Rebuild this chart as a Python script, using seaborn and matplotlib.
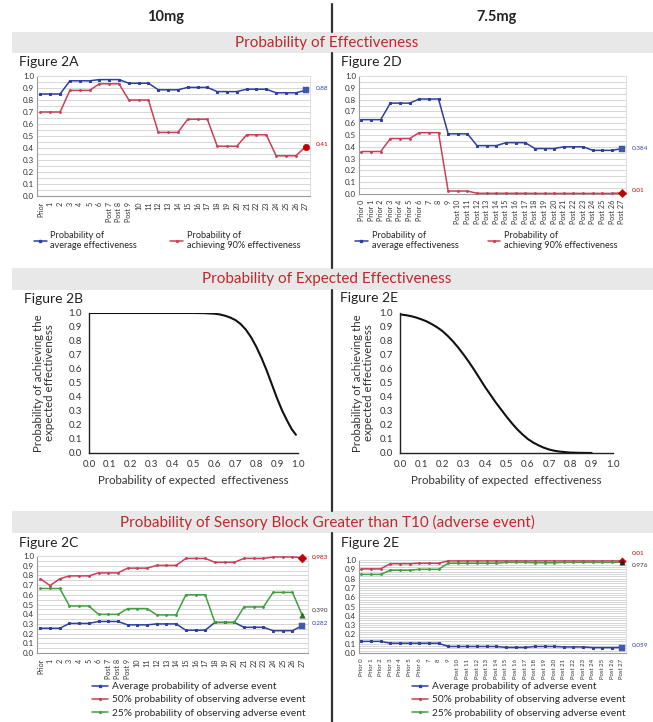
import numpy as np
import pandas as pd
import matplotlib
matplotlib.use("Agg")
import matplotlib.pyplot as plt
import seaborn as sns
from matplotlib.lines import Line2D
from matplotlib.patches import Rectangle
from matplotlib.ticker import MultipleLocator

sns.set_style("white")
plt.rcParams['font.family'] = ['Lato', 'DejaVu Sans']

# ---------------- data ----------------
labels_10mg = ["Prior", "1", "2", "3", "4", "5", "6", "Post 7", "Post 8", "Post 9",
               "10", "11", "12", "13", "14", "15", "16", "17", "18", "19", "20",
               "21", "22", "23", "24", "25", "26", "27"]
labels_75mg = ["Prior 0", "Prior 1", "Prior 2", "Prior 3", "Prior 4", "Prior 5", "Prior 6",
               "7", "8", "9", "Post 10", "Post 11", "Post 12", "Post 13", "Post 14",
               "Post 15", "Post 16", "Post 17", "Post 18", "Post 19", "Post 20",
               "Post 21", "Post 22", "Post 23", "Post 24", "Post 25", "Post 26", "Post 27"]

# Figure 2A (10 mg) effectiveness
eff_avg_10 = [0.85, 0.85, 0.85, 0.96, 0.96, 0.96, 0.97, 0.97, 0.97, 0.94, 0.94, 0.94,
              0.885, 0.885, 0.885, 0.905, 0.905, 0.905, 0.87, 0.87, 0.87, 0.89, 0.89, 0.89,
              0.86, 0.86, 0.86, 0.88]
eff_90_10 = [0.70, 0.70, 0.70, 0.88, 0.88, 0.88, 0.935, 0.935, 0.935, 0.80, 0.80, 0.80,
             0.53, 0.53, 0.53, 0.64, 0.64, 0.64, 0.415, 0.415, 0.415, 0.51, 0.51, 0.51,
             0.335, 0.335, 0.335, 0.41]
# Figure 2D (7.5 mg) effectiveness
eff_avg_75 = [0.63, 0.63, 0.63, 0.77, 0.77, 0.77, 0.805, 0.805, 0.805, 0.51, 0.51, 0.51,
              0.41, 0.41, 0.41, 0.435, 0.435, 0.435, 0.385, 0.385, 0.385, 0.40, 0.40, 0.40,
              0.37, 0.37, 0.37, 0.384]
eff_90_75 = [0.36, 0.36, 0.36, 0.47, 0.47, 0.47, 0.52, 0.52, 0.52, 0.025, 0.025, 0.025,
             0.006, 0.006, 0.006, 0.006, 0.006, 0.006, 0.005, 0.005, 0.005, 0.005, 0.005, 0.005,
             0.005, 0.005, 0.005, 0.01]

# Figure 2B / 2E curves
exp_x_10 = [0.0, 0.1, 0.2, 0.3, 0.4, 0.5, 0.55, 0.6, 0.625, 0.65, 0.675, 0.7, 0.725, 0.75,
            0.775, 0.8, 0.825, 0.85, 0.875, 0.9, 0.925, 0.95, 0.97, 0.99]
exp_y_10 = [1.0, 1.0, 1.0, 1.0, 1.0, 1.0, 0.999, 0.995, 0.99, 0.981, 0.968, 0.95, 0.922, 0.882,
            0.828, 0.76, 0.68, 0.59, 0.49, 0.39, 0.30, 0.225, 0.17, 0.13]
exp_x_75 = [0.0, 0.025, 0.05, 0.075, 0.1, 0.125, 0.15, 0.175, 0.2, 0.225, 0.25, 0.275, 0.3,
            0.325, 0.35, 0.375, 0.4, 0.425, 0.45, 0.475, 0.5, 0.525, 0.55, 0.575, 0.6,
            0.625, 0.65, 0.675, 0.7, 0.725, 0.75, 0.8, 0.85, 0.9]
exp_y_75 = [0.99, 0.985, 0.978, 0.968, 0.955, 0.94, 0.92, 0.897, 0.87, 0.835, 0.795, 0.75, 0.70,
            0.647, 0.59, 0.53, 0.47, 0.415, 0.36, 0.31, 0.26, 0.213, 0.17, 0.133, 0.10,
            0.075, 0.055, 0.038, 0.025, 0.016, 0.01, 0.003, 0.001, 0.0]

# Figure 2C (10 mg) adverse event
ae_avg_10 = [0.255, 0.255, 0.255, 0.305, 0.305, 0.305, 0.325, 0.325, 0.325, 0.29, 0.29, 0.29,
             0.30, 0.30, 0.30, 0.235, 0.235, 0.235, 0.315, 0.315, 0.315, 0.265, 0.265, 0.265,
             0.23, 0.23, 0.23, 0.282]
ae_50_10 = [0.765, 0.695, 0.765, 0.795, 0.795, 0.795, 0.826, 0.826, 0.826, 0.875, 0.875, 0.875,
            0.903, 0.903, 0.903, 0.975, 0.975, 0.975, 0.935, 0.935, 0.935, 0.975, 0.975, 0.975,
            0.99, 0.99, 0.99, 0.983]
ae_25_10 = [0.665, 0.665, 0.665, 0.485, 0.485, 0.485, 0.398, 0.398, 0.398, 0.458, 0.458, 0.458,
            0.393, 0.393, 0.393, 0.60, 0.60, 0.60, 0.315, 0.315, 0.315, 0.475, 0.475, 0.475,
            0.625, 0.625, 0.625, 0.390]
# Figure 2E (7.5 mg) adverse event
ae_avg_75 = [0.125, 0.125, 0.125, 0.105, 0.105, 0.105, 0.105, 0.105, 0.105, 0.07, 0.07, 0.07,
             0.07, 0.07, 0.07, 0.06, 0.06, 0.06, 0.07, 0.07, 0.07, 0.065, 0.065, 0.065,
             0.058, 0.058, 0.058, 0.059]
ae_50_75 = [0.905, 0.905, 0.905, 0.96, 0.96, 0.96, 0.965, 0.965, 0.965, 0.99, 0.99, 0.99,
            0.99, 0.99, 0.99, 0.99, 0.99, 0.99, 0.99, 0.99, 0.99, 0.99, 0.99, 0.99,
            0.99, 0.99, 0.99, 0.99]
ae_25_75 = [0.845, 0.845, 0.845, 0.89, 0.89, 0.89, 0.90, 0.90, 0.90, 0.965, 0.965, 0.965,
            0.965, 0.965, 0.965, 0.975, 0.975, 0.975, 0.97, 0.97, 0.97, 0.975, 0.975, 0.975,
            0.975, 0.975, 0.975, 0.976]

end_labels_2A = ["0.88", "0.41"]
end_labels_2D = ["0.384", "0.01"]
end_labels_2C = ["0.282", "0.983", "0,390"]
end_labels_2E = ["0.059", "0.01", "0.976"]

# ---------------- styling ----------------
W, H = 653, 722
BLUE = "#2f3f9e"
RED = "#c8405a"
RED_DARK = "#c00000"
GREEN = "#3fa03f"
TITLE_RED = "#c0282d"
BANNER = "#e8e8e8"
GRID = "#d6d6d6"

fig = plt.figure(figsize=(W / 100, H / 100), dpi=100)
fig.patch.set_facecolor("white")


def px_axes(l, t, r, b):
    return fig.add_axes([l / W, 1 - b / H, (r - l) / W, (b - t) / H])


def ftext(x, y, s, **kw):
    fig.text(x / W, 1 - y / H, s, **kw)


# banners and divider
for (t, b, txt) in [(32, 53, "Probability of Effectiveness"),
                    (268, 290, "Probability of Expected Effectiveness"),
                    (511, 533, "Probability of Sensory Block Greater than T10 (adverse event)")]:
    fig.patches.append(Rectangle((12 / W, 1 - b / H), (W - 12) / W, (b - t) / H,
                                 transform=fig.transFigure, facecolor=BANNER,
                                 edgecolor="none", zorder=0))
    ftext(327, (t + b) / 2 + 0.5, txt, ha="center", va="center", fontsize=11, color=TITLE_RED)

for (y0, y1) in [(4, 32), (53, 268), (290, 511), (533, 722)]:
    fig.add_artist(Line2D([332 / W, 332 / W], [1 - y0 / H, 1 - y1 / H],
                          transform=fig.transFigure, color="#333333", lw=1.6))

ftext(166, 17, "10mg", ha="center", va="center", fontsize=10.5, fontweight="bold", color="#222222")
ftext(497, 17, "7.5mg", ha="center", va="center", fontsize=10.5, fontweight="bold", color="#222222")

for (x, y, s) in [(19, 62, "Figure 2A"), (341, 62, "Figure 2D"), (24, 299, "Figure 2B"),
                  (340, 298, "Figure 2E"), (19, 543, "Figure 2C"), (341, 543, "Figure 2E")]:
    ftext(x, y, s, ha="left", va="center", fontsize=10, color="#222222")


def style_series_axes(ax, labels, xlim, grid_step, xfs):
    ax.set_xlim(*xlim)
    ax.set_ylim(0, 1.0)
    ax.set_yticks(np.arange(0, 1.01, 0.1))
    ax.set_yticklabels([f"{v:.1f}" for v in np.arange(0, 1.01, 0.1)], fontsize=5.8, color="#333333")
    ax.yaxis.set_minor_locator(MultipleLocator(grid_step))
    ax.grid(True, axis="y", which="both", color=GRID, lw=0.7)
    ax.set_xticks(range(len(labels)))
    ax.set_xticklabels(labels, rotation=90, fontsize=xfs, color="#333333")
    ax.tick_params(axis="both", which="both", length=0, pad=2)
    ax.tick_params(axis="x", length=2, color="#999999", width=0.5)
    for s in ["left", "bottom"]:
        ax.spines[s].set_color("#9a9a9a")
        ax.spines[s].set_linewidth(0.8)
    for s in ["top", "right"]:
        ax.spines[s].set_color("#dddddd")
        ax.spines[s].set_linewidth(0.7)
    ax.set_xlabel("")
    ax.set_ylabel("")


def draw_series(ax, values, color, marker, ms, end_marker, end_ms, end_color, label_txt, label_color, dy=0):
    df = pd.DataFrame({"x": np.arange(len(values)), "y": values})
    sns.lineplot(data=df, x="x", y="y", ax=ax, color=color, lw=1.1, marker=marker,
                 markersize=ms, markeredgecolor=color, markerfacecolor=color, zorder=3)
    last = df.iloc[[-1]]
    sns.scatterplot(data=last, x="x", y="y", ax=ax, color=end_color, marker=end_marker,
                    s=end_ms, edgecolor=end_color, zorder=4, clip_on=False)
    ax.annotate(label_txt, xy=(last["x"].iloc[0], last["y"].iloc[0]), xytext=(7, dy),
                textcoords="offset points", fontsize=4.6, color=label_color,
                ha="left", va="center", annotation_clip=False)


# ---- Figure 2A ----
axA = px_axes(37, 76, 310, 196)
draw_series(axA, eff_avg_10, BLUE, "s", 2.0, "s", 18, "#3f5aa8", end_labels_2A[0], BLUE, 1.5)
draw_series(axA, eff_90_10, RED, "o", 1.3, "o", 22, RED_DARK, end_labels_2A[1], RED_DARK, 1.5)
style_series_axes(axA, labels_10mg, (-0.35, 27.45), 0.05, 5.2)

# ---- Figure 2D ----
axD = px_axes(359, 76, 626, 194)
draw_series(axD, eff_avg_75, BLUE, "s", 2.0, "s", 18, "#3f5aa8", end_labels_2D[0], BLUE, 0)
draw_series(axD, eff_90_75, RED, "o", 1.3, "D", 18, RED_DARK, end_labels_2D[1], RED_DARK, 2)
style_series_axes(axD, labels_75mg, (-0.25, 27.45), 0.05, 5.2)

leg_eff = [Line2D([], [], color=BLUE, marker="s", ms=2.0, lw=1.1),
           Line2D([], [], color=RED, marker="o", ms=1.3, lw=1.1)]
leg_eff_txt = ["Probability of\naverage effectiveness", "Probability of\nachieving 90% effectiveness"]
for ax, x0, cs in [(axA, 34, 3.6), (axD, 355, 3.2)]:
    ax.legend(leg_eff, leg_eff_txt, ncol=2, loc="upper left",
              bbox_to_anchor=(x0 / W, 1 - 231 / H), bbox_transform=fig.transFigure,
              frameon=False, fontsize=6.6, handlelength=1.4, handletextpad=0.4,
              columnspacing=cs, borderaxespad=0, borderpad=0)

# ---- Figure 2B / 2E (curves) ----
def style_curve_axes(ax, ylab_x):
    ax.set_xlim(0, 1.0)
    ax.set_ylim(0, 1.0)
    ticks = np.arange(0, 1.01, 0.1)
    ax.set_xticks(ticks)
    ax.set_xticklabels([f"{v:.1f}" for v in ticks], fontsize=7, color="#333333")
    ax.set_yticks(ticks)
    ax.set_yticklabels([f"{v:.1f}" for v in ticks], fontsize=7, color="#333333")
    ax.xaxis.set_minor_locator(MultipleLocator(0.05))
    ax.yaxis.set_minor_locator(MultipleLocator(0.05))
    ax.tick_params(axis="both", which="major", direction="out", length=3, width=0.8, color="#222222", pad=2)
    ax.tick_params(axis="both", which="minor", direction="out", length=2, width=0.7, color="#222222")
    sns.despine(ax=ax)
    for s in ["left", "bottom"]:
        ax.spines[s].set_color("#222222")
        ax.spines[s].set_linewidth(1.0)
    ax.grid(False)
    ax.set_xlabel("Probability of expected  effectiveness", fontsize=8.3, color="#333333")
    ax.set_ylabel("Probability of achieving the\nexpected effectiveness", fontsize=8.3,
                  color="#333333", linespacing=1.0)
    ax.xaxis.set_label_coords(0.5, -0.16)
    ax.yaxis.set_label_coords(ylab_x, 0.5)


axB = px_axes(89, 313, 298, 453)
sns.lineplot(x=exp_x_10, y=exp_y_10, ax=axB, color="#111111", lw=1.5)
style_curve_axes(axB, -0.165)

axE = px_axes(400, 313, 613, 453)
sns.lineplot(x=exp_x_75, y=exp_y_75, ax=axE, color="#111111", lw=1.5)
style_curve_axes(axE, -0.12)

# ---- Figure 2C ----
axC = px_axes(37, 556, 308, 653)
draw_series(axC, ae_avg_10, BLUE, "s", 2.0, "s", 18, "#3f5aa8", end_labels_2C[0], BLUE, 1.5)
draw_series(axC, ae_50_10, RED, "o", 1.3, "D", 20, RED_DARK, end_labels_2C[1], RED_DARK, 0)
draw_series(axC, ae_25_10, GREEN, "o", 1.3, "^", 16, "#2e6b2e", end_labels_2C[2], "#333333", 4)
style_series_axes(axC, labels_10mg, (-0.35, 27.6), 0.05, 5.2)

# ---- Figure 2E (adverse) ----
axF = px_axes(359, 560, 626, 653)
draw_series(axF, ae_avg_75, BLUE, "s", 2.0, "s", 14, "#3f5aa8", end_labels_2E[0], BLUE, 1.5)
draw_series(axF, ae_50_75, RED, "o", 1.3, "D", 14, RED_DARK, end_labels_2E[1], RED_DARK, 5)
draw_series(axF, ae_25_75, GREEN, "o", 1.3, "^", 14, "#222222", end_labels_2E[2], "#333333", -2)
style_series_axes(axF, labels_75mg, (-0.25, 27.45), 0.025, 4.3)

leg_ae = [Line2D([], [], color=BLUE, marker="s", ms=2.0, lw=1.1),
          Line2D([], [], color=RED, marker="o", ms=1.3, lw=1.1),
          Line2D([], [], color=GREEN, marker="o", ms=1.3, lw=1.1)]
leg_ae_txt = ["Average probability of adverse event",
              "50% probability of observing adverse event",
              "25% probability of observing adverse event"]
for ax, x0 in [(axC, 92), (axF, 412)]:
    ax.legend(leg_ae, leg_ae_txt, ncol=1, loc="upper left",
              bbox_to_anchor=(x0 / W, 1 - 682 / H), bbox_transform=fig.transFigure,
              frameon=False, fontsize=7.3, handlelength=1.6, handletextpad=0.4,
              labelspacing=0.42, borderaxespad=0, borderpad=0)

fig.savefig("out.png", dpi=100)
